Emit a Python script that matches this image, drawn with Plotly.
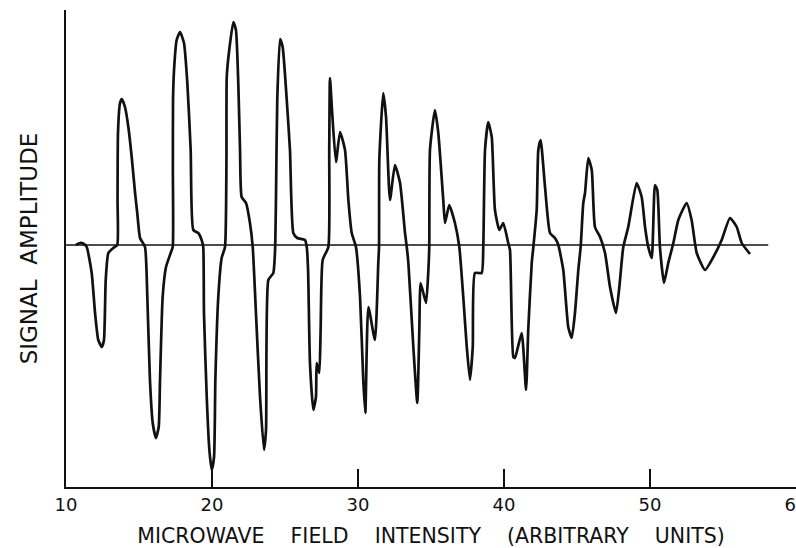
import plotly.graph_objects as go

# Microwave field intensity (arbitrary units) and signal amplitude (arbitrary units)
field = [
    10.68, 10.96, 11.23, 11.42, 11.76, 11.99, 12.21, 12.45, 12.60, 12.72, 12.90, 13.24, 13.51,
    13.53, 13.56, 13.70, 13.82, 14.04, 14.27, 14.50, 14.73, 14.88, 15.07, 15.41,
    15.57, 15.75, 15.94, 16.16, 16.35, 16.44, 16.62, 16.85, 17.17, 17.31,
    17.32, 17.33, 17.40, 17.58, 17.81, 18.08, 18.31, 18.54, 18.72, 19.06, 19.29, 19.40,
    19.45, 19.64, 19.82, 19.98, 20.14, 20.23, 20.43, 20.66, 20.89,
    20.99, 21.01, 21.18, 21.46, 21.64, 21.80, 21.92, 22.03, 22.33, 22.60, 22.79,
    23.01, 23.29, 23.56, 23.70, 23.86, 24.20, 24.32,
    24.38, 24.47, 24.66, 24.84, 25.12, 25.34, 25.57, 25.84, 26.37, 26.49,
    26.58, 26.71, 26.94, 27.12, 27.17, 27.35, 27.44, 27.58, 27.97,
    28.03, 28.08, 28.22, 28.49, 28.77, 29.11, 29.34, 29.57, 29.86,
    30.14, 30.36, 30.50, 30.71, 31.16, 31.39, 31.44,
    31.46, 31.73, 31.92, 32.19, 32.53, 32.88, 33.22, 33.34,
    33.45, 33.79, 34.06, 34.20, 34.29, 34.66, 34.82, 34.88,
    34.93, 35.27, 35.50, 35.84, 35.96, 36.25, 36.64, 36.94,
    37.21, 37.45, 37.67, 37.86, 38.01, 38.47, 38.58,
    38.70, 38.92, 39.16, 39.38, 39.68, 39.95, 40.29,
    40.41, 40.64, 40.75, 41.21, 41.51, 41.66, 41.90, 42.01,
    42.24, 42.35, 42.51, 42.81, 43.15, 43.49, 43.72,
    44.06, 44.40, 44.64, 44.86, 45.09, 45.25,
    45.43, 45.55, 45.77, 46.01, 46.23, 46.58, 46.92,
    47.26, 47.67, 47.90, 48.17,
    48.51, 49.08, 49.43, 49.66, 49.88, 50.12, 50.34, 50.50, 50.68, 50.96, 51.25, 51.60,
    51.94, 52.51, 52.85, 53.20, 53.77, 54.34, 54.91, 55.48, 55.94, 56.28, 56.85,
]
amplitude = [
    0.0, 0.2, 0.1, -0.2, -2.8, -6.8, -9.5, -10.2, -9.5, -3.5, -0.8, -0.3, 0.0,
    4.5, 11.2, 14.2, 14.6, 13.8, 11.8, 8.8, 5.2, 3.2, 0.7, -0.2,
    -5.2, -13.5, -17.8, -19.3, -18.2, -13.5, -5.2, -2.2, -0.8, -0.2,
    7.5, 14.5, 17.5, 20.5, 21.3, 20.2, 16.2, 9.5, 1.5, 1.2, 0.5, -0.2,
    -6.8, -15.2, -20.5, -22.5, -21.2, -13.5, -5.2, -1.3, -0.2,
    8.5, 16.8, 19.5, 22.3, 21.5, 16.2, 9.5, 4.8, 4.2, 2.2, -0.2,
    -6.8, -15.2, -20.5, -18.5, -3.5, -2.8, -0.5,
    4.5, 14.5, 20.6, 19.8, 14.5, 9.5, 1.2, 0.7, 0.5, -0.2,
    -2.5, -11.8, -16.5, -15.2, -11.8, -12.8, -8.5, -1.5, -0.2,
    9.5, 16.7, 13.5, 8.3, 11.3, 9.5, 4.5, 1.2, -0.2,
    -5.2, -13.5, -16.8, -6.2, -9.5, -1.8, -0.2,
    8.5, 15.2, 12.8, 4.5, 8.0, 6.2, 1.2, -0.2,
    -1.8, -10.2, -15.8, -8.5, -3.8, -5.8, -2.5, -0.2,
    9.5, 13.5, 11.2, 4.5, 2.2, 4.0, 2.2, -0.2,
    -5.2, -10.2, -13.5, -10.2, -2.8, -2.8, -0.2,
    9.5, 12.3, 10.8, 3.5, 1.5, 2.2, 0.2,
    -0.5, -11.2, -11.3, -8.8, -14.5, -8.5, -1.8, -0.2,
    3.5, 9.5, 10.5, 5.8, 1.2, 0.7, 0.0,
    -2.5, -8.2, -9.3, -6.8, -2.5, -0.2,
    4.2, 5.2, 8.7, 7.5, 1.8, 0.8, -0.8,
    -4.2, -6.8, -4.2, -0.2,
    1.8, 6.2, 4.8, 1.8, -0.2, -1.3, 6.0, 5.5, -0.2, -3.8, -1.8, 0.2,
    2.5, 4.2, 2.5, -0.8, -2.5, -1.2, 0.5, 2.7, 1.8, 0.2, -0.9,
]

baseline_field = [10.0, 58.1]
baseline_amp = [0.0, 0.0]

x_ticks = [10, 20, 30, 40, 50, 60]
x_tick_labels = ["10", "20", "30", "40", "50", "60"]

x_title = "MICROWAVE    FIELD    INTENSITY    (ARBITRARY    UNITS)"
y_title = "SIGNAL  AMPLITUDE"

fig = go.Figure()
fig.add_trace(go.Scatter(
    x=baseline_field, y=baseline_amp, mode="lines",
    line=dict(color="#111111", width=1.3), hoverinfo="skip", showlegend=False,
))
fig.add_trace(go.Scatter(
    x=field, y=amplitude, mode="lines",
    line=dict(color="#111111", width=2.7, shape="spline", smoothing=0.5),
    showlegend=False,
))

fig.update_layout(
    width=796, height=548,
    margin=dict(l=66, r=0, t=10, b=61),
    paper_bgcolor="white", plot_bgcolor="white",
    font=dict(family="DejaVu Sans", color="#111111"),
)
fig.update_xaxes(
    range=[10, 60], tickmode="array", tickvals=x_ticks, ticktext=x_tick_labels,
    ticks="inside", ticklen=18, tickwidth=1.8, tickcolor="#111111",
    ticklabeloverflow="allow",
    showline=True, linewidth=2, linecolor="#111111", mirror=False,
    showgrid=False, zeroline=False, automargin=False,
    tickfont=dict(family="DejaVu Sans", size=18, color="#111111"),
    title=dict(text=x_title, font=dict(family="DejaVu Sans", size=20.5, color="#111111"), standoff=27),
)
fig.update_yaxes(
    range=[-24.2, 23.5], showticklabels=False, ticks="",
    showline=True, linewidth=2, linecolor="#111111", mirror=False,
    showgrid=False, zeroline=False, automargin=False,
    title=dict(text=y_title, font=dict(family="DejaVu Sans", size=23, color="#111111"), standoff=20),
)

fig.write_html(
    "out.html",
    config={"displayModeBar": False},
    post_script="document.body.style.margin='0';document.body.style.overflow='hidden';",
)
